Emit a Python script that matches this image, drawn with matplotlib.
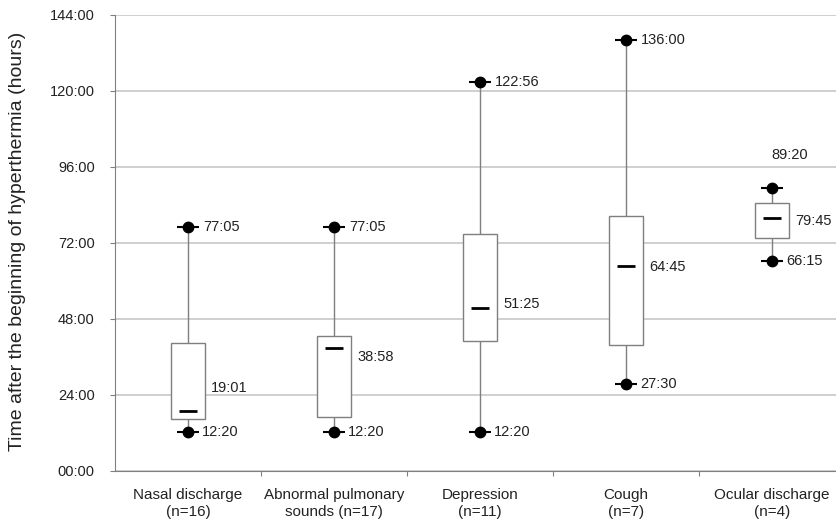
import matplotlib.pyplot as plt

plt.rcParams['font.family'] = ['Liberation Sans', 'DejaVu Sans']

# onset of each sign, hours after the start of hyperthermia
categories = ['Nasal discharge\n(n=16)', 'Abnormal pulmonary\nsounds (n=17)',
              'Depression\n(n=11)', 'Cough\n(n=7)', 'Ocular discharge\n(n=4)']
min_lbl = ['12:20', '12:20', '12:20', '27:30', '66:15']
med_lbl = ['19:01', '38:58', '51:25', '64:45', '79:45']
max_lbl = ['77:05', '77:05', '122:56', '136:00', '89:20']
q1 = [16.3, 17.1, 41.1, 39.7, 73.5]
q3 = [40.3, 42.7, 74.7, 80.5, 84.6]
# vertical shift of the median labels (hours)
med_shift = [7.1, -3.1, 1.3, -0.4, -0.8]


def hours(s):
    h, m = s.split(':')
    return int(h) + int(m) / 60


lo = [hours(s) for s in min_lbl]
med = [hours(s) for s in med_lbl]
hi = [hours(s) for s in max_lbl]
x = list(range(len(categories)))

fig = plt.figure(figsize=(8.36, 5.24), dpi=100)
ax = fig.add_axes([115 / 836, 53 / 524, 730 / 836, 456 / 524])

txt = '#222222'
edge = '#7f7f7f'

ax.set_ylim(0, 144)
ax.set_xlim(-0.5, len(categories) - 0.5)
ax.set_yticks(range(0, 145, 24))
ax.set_yticklabels([f'{v:02d}:00' for v in range(0, 145, 24)], fontsize=10.5, color=txt)
ax.yaxis.grid(True, color='#cccccc', lw=1.3)
ax.set_axisbelow(True)

ax.set_xticks([i + 0.5 for i in x[:-1]])
ax.set_xticklabels([])
for i, c in enumerate(categories):
    ax.text(i, -5.3, c, ha='center', va='top', fontsize=11, color=txt, linespacing=1.3)

for s in ['top', 'right']:
    ax.spines[s].set_visible(False)
for s in ['left', 'bottom']:
    ax.spines[s].set_color('#808080')
ax.tick_params(axis='both', colors='#808080', length=3.5, labelcolor=txt)
ax.tick_params(axis='y', pad=11)

# whiskers, boxes, medians
ax.vlines(x, lo, q1, color=edge, lw=1, zorder=2)
ax.vlines(x, q3, hi, color=edge, lw=1, zorder=2)
ax.bar(x, [b - a for a, b in zip(q1, q3)], bottom=q1, width=0.23,
       color='white', edgecolor=edge, lw=1, zorder=3)
ax.hlines(med, [i - 0.06 for i in x], [i + 0.06 for i in x], color='black', lw=2, zorder=4)

# min / max markers with short caps
for v in (lo, hi):
    ax.hlines(v, [i - 0.075 for i in x], [i + 0.075 for i in x], color='black', lw=1.5, zorder=4)
    ax.plot(x, v, 'o', color='black', ms=7.5, zorder=5)

for i in x:
    ax.annotate(min_lbl[i], (i, lo[i]), xytext=(14, 0), textcoords='offset pixels',
                va='center', fontsize=10.5, color=txt)
    ax.annotate(med_lbl[i], (i, med[i] + med_shift[i]), xytext=(23, 0),
                textcoords='offset pixels', va='center', fontsize=10.5, color=txt)
    if i == len(categories) - 1:
        ax.annotate(max_lbl[i], (i, hi[i]), xytext=(-1, 33), textcoords='offset pixels',
                    va='center', fontsize=10.5, color=txt)
    else:
        ax.annotate(max_lbl[i], (i, hi[i]), xytext=(15, 0), textcoords='offset pixels',
                    va='center', fontsize=10.5, color=txt)

fig.text(18 / 836, 0.54, 'Time after the beginning of hyperthermia (hours)',
         rotation=90, ha='center', va='center', fontsize=14, color=txt)

fig.savefig('out.png', dpi=100)
